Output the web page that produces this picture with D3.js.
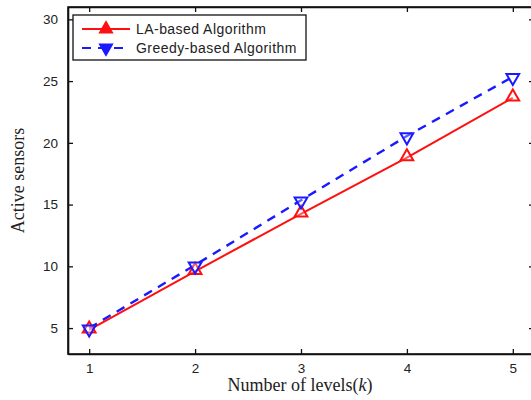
<!DOCTYPE html>
<html>
<head>
<meta charset="utf-8">
<script src="https://cdn.jsdelivr.net/npm/d3@7"></script>
<style>
  html, body { margin: 0; padding: 0; background: #fff; }
  svg { display: block; }
</style>
</head>
<body>
<svg id="chart" width="531" height="400"></svg>
<script>
// Number of levels k
const levels = [1, 2, 3, 4, 5];
// Active sensors per algorithm
const laBased = [4.85, 9.6, 14.25, 18.8, 23.65];
const greedyBased = [5.0, 10.1, 15.35, 20.55, 25.35];
const xTicks = [1, 2, 3, 4, 5];
const yTicks = [5, 10, 15, 20, 25, 30];
const seriesNames = ["LA-based Algorithm", "Greedy-based Algorithm"];

const svg = d3.select("#chart");
const plotLeft = 68, plotRight = 534, plotTop = 7, plotBottom = 354;

const x = d3.scaleLinear().domain([0.8, 5.2]).range([plotLeft, plotRight]);
const y = d3.scaleLinear().domain([2.9, 31]).range([plotBottom, plotTop]);

const tickFont = "Arial, 'Liberation Sans', Helvetica, sans-serif";

// Frame
svg.append("rect")
  .attr("x", plotLeft).attr("y", plotTop)
  .attr("width", plotRight - plotLeft).attr("height", plotBottom - plotTop)
  .attr("fill", "none").attr("stroke", "#111").attr("stroke-width", 1.6);

// Axes with inward ticks
const xAxis = svg.append("g").attr("transform", `translate(0,${plotBottom})`)
  .call(d3.axisBottom(x).tickValues(xTicks).tickSizeInner(-5).tickSizeOuter(0).tickPadding(9).tickFormat(d3.format("d")));
const xAxisTop = svg.append("g").attr("transform", `translate(0,${plotTop})`)
  .call(d3.axisTop(x).tickValues(xTicks).tickSizeInner(-5).tickSizeOuter(0).tickFormat(""));
const yAxis = svg.append("g").attr("transform", `translate(${plotLeft},0)`)
  .call(d3.axisLeft(y).tickValues(yTicks).tickSizeInner(-5).tickSizeOuter(0).tickPadding(10).tickFormat(d3.format("d")));
const yAxisRight = svg.append("g").attr("transform", `translate(${plotRight},0)`)
  .call(d3.axisRight(y).tickValues(yTicks).tickSizeInner(-5).tickSizeOuter(0).tickFormat(""));

[xAxis, xAxisTop, yAxis, yAxisRight].forEach(g => {
  g.select(".domain").attr("stroke", "#111").attr("stroke-width", 1.6);
  g.selectAll(".tick line").attr("stroke", "#111").attr("stroke-width", 1.3);
  g.selectAll(".tick text").attr("font-family", tickFont).attr("font-size", 13.5).attr("fill", "#222");
});

// Series
const line = d3.line().x((d, i) => x(levels[i])).y(d => y(d));

const triUp = d3.symbol().type(d3.symbolTriangle).size(70);

svg.append("path").datum(greedyBased)
  .attr("d", line).attr("fill", "none")
  .attr("stroke", "#1a1aff").attr("stroke-width", 2.4)
  .attr("stroke-dasharray", "9,7");

svg.append("path").datum(laBased)
  .attr("d", line).attr("fill", "none")
  .attr("stroke", "#ff1010").attr("stroke-width", 2);

svg.selectAll(".la-mark").data(laBased).join("path")
  .attr("class", "la-mark")
  .attr("d", triUp)
  .attr("transform", (d, i) => `translate(${x(levels[i])},${y(d) - 1})`)
  .attr("fill", "#fff").attr("fill-opacity", 0.3)
  .attr("stroke", "#ff1010").attr("stroke-width", 2);

svg.selectAll(".gr-mark").data(greedyBased).join("path")
  .attr("class", "gr-mark")
  .attr("d", triUp)
  .attr("transform", (d, i) => `translate(${x(levels[i])},${y(d) + 1}) rotate(180)`)
  .attr("fill", "#fff").attr("fill-opacity", 0.3)
  .attr("stroke", "#1a1aff").attr("stroke-width", 2);

// Legend
const legend = svg.append("g");
legend.append("rect")
  .attr("x", 73).attr("y", 15).attr("width", 233).attr("height", 45)
  .attr("fill", "#fff").attr("stroke", "#111").attr("stroke-width", 1.3);

const legendRows = [
  { name: seriesNames[0], color: "#ff1010", dash: null, rot: 0, ly: 29 },
  { name: seriesNames[1], color: "#1a1aff", dash: "9,7", rot: 180, ly: 48 }
];
legendRows.forEach(r => {
  legend.append("line")
    .attr("x1", 82).attr("x2", 130).attr("y1", r.ly).attr("y2", r.ly)
    .attr("stroke", r.color).attr("stroke-width", 2)
    .attr("stroke-dasharray", r.dash);
  legend.append("path")
    .attr("d", triUp)
    .attr("transform", `translate(106,${r.ly}) rotate(${r.rot})`)
    .attr("fill", r.color).attr("stroke", r.color).attr("stroke-width", 1.5);
  legend.append("text")
    .attr("x", 136).attr("y", r.ly + 5)
    .attr("font-family", tickFont).attr("font-size", 14).attr("letter-spacing", 0.45)
    .attr("fill", "#222")
    .text(r.name);
});

// Axis titles
const serif = "'Times New Roman', 'Liberation Serif', 'DejaVu Serif', serif";
const xTitle = svg.append("text")
  .attr("x", 300).attr("y", 391)
  .attr("text-anchor", "middle")
  .attr("font-family", serif).attr("font-size", 18).attr("fill", "#222");
xTitle.append("tspan").text("Number of levels(");
xTitle.append("tspan").attr("font-style", "italic").text("k");
xTitle.append("tspan").text(")");

svg.append("text")
  .attr("transform", `translate(24,${(plotTop + plotBottom) / 2}) rotate(-90)`)
  .attr("text-anchor", "middle")
  .attr("font-family", serif).attr("font-size", 18).attr("fill", "#222")
  .text("Active sensors");
</script>
</body>
</html>
